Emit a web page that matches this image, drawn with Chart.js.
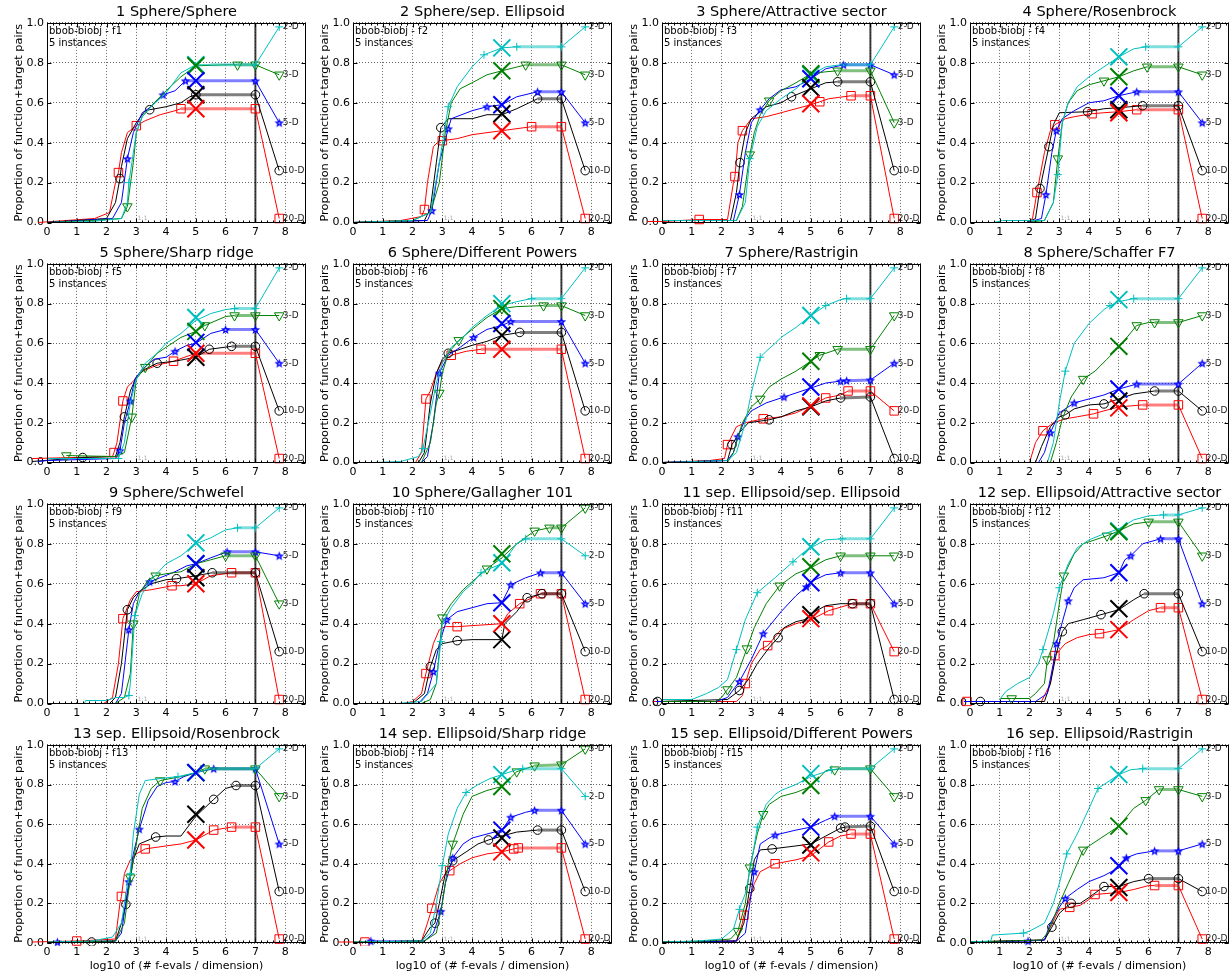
<!DOCTYPE html>
<html>
<head>
<meta charset="utf-8">
<script src="https://cdn.jsdelivr.net/npm/chart.js@4.4.1/dist/chart.umd.min.js"></script>
<style>
  body { margin: 0; background: #fff; width: 1230px; height: 977px; overflow: hidden; position: relative; }
  canvas { position: absolute; }
</style>
</head>
<body>
<script>
const titles = [
  '1 Sphere/Sphere', '2 Sphere/sep. Ellipsoid', '3 Sphere/Attractive sector', '4 Sphere/Rosenbrock',
  '5 Sphere/Sharp ridge', '6 Sphere/Different Powers', '7 Sphere/Rastrigin', '8 Sphere/Schaffer F7',
  '9 Sphere/Schwefel', '10 Sphere/Gallagher 101', '11 sep. Ellipsoid/sep. Ellipsoid', '12 sep. Ellipsoid/Attractive sector',
  '13 sep. Ellipsoid/Rosenbrock', '14 sep. Ellipsoid/Sharp ridge', '15 sep. Ellipsoid/Different Powers', '16 sep. Ellipsoid/Rastrigin'
];
const dims = ['2-D', '3-D', '5-D', '10-D', '20-D'];
const xTicks = [0, 1, 2, 3, 4, 5, 6, 7, 8];
const yTicks = [0, 0.2, 0.4, 0.6, 0.8, 1.0];
const xMax = 8.7;
const budgetX = 7;
const crossX = 5;
const labelX = 7.8;
const labelSlots = [0.98, 0.74, 0.50, 0.26, 0.02];
// slot index of each dimension label (2-D,3-D,5-D,10-D,20-D) per function
const labelRank = [
  [0,1,2,3,4],[0,1,2,3,4],[0,2,1,3,4],[0,1,2,3,4],
  [0,1,2,3,4],[0,1,2,3,4],[0,1,2,4,3],[0,1,2,3,4],
  [0,2,1,3,4],[1,0,2,3,4],[0,1,2,4,3],[0,1,2,3,4],
  [0,1,2,3,4],[1,0,2,3,4],[0,1,2,3,4],[0,1,2,3,4]
];

// ECDF points [x, y] ; a third value 1 marks a plotted marker
const ecdf2D = [
  [[0,0],[1.5,0.005],[2.5,0.02],[2.7,0.1],[2.75,0.2,1],[2.85,0.3],[3,0.45],[3.2,0.53],[3.5,0.58],[4,0.65],[4.5,0.75],[5,0.79],[5.5,0.79],[7,0.79,1]],
  [[0,0],[2,0.01],[2.6,0.05],[2.9,0.3],[3.2,0.58,1],[3.5,0.68],[4,0.78],[4.4,0.84,1],[5,0.875],[5.5,0.88,1],[7,0.88,1]],
  [[0,0.01],[2.5,0.01],[2.8,0.1],[2.95,0.32,1],[3.2,0.48],[3.5,0.56],[4,0.62],[4.5,0.67],[5,0.74],[5.5,0.78],[6,0.79],[7,0.79,1]],
  [[0.8,0],[1.1,0.01],[2.5,0.01],[2.8,0.1],[2.95,0.24,1],[3.1,0.5],[3.3,0.6],[3.6,0.68],[4,0.73],[4.5,0.78],[5,0.83],[5.5,0.87],[5.9,0.88,1],[7,0.88,1]],
  [[0,0.02],[2.4,0.02,1],[2.6,0.1],[2.8,0.3],[3,0.42],[3.3,0.5],[3.7,0.55],[4,0.6],[4.5,0.65],[5,0.715],[5.5,0.75],[6,0.77],[6.3,0.775,1],[7,0.775,1]],
  [[0.7,0],[1.6,0.005],[2.2,0.03],[2.35,0.07,1],[2.6,0.25],[2.8,0.4],[3,0.5],[3.3,0.58],[3.7,0.63],[4,0.68],[4.5,0.74],[5,0.79],[5.5,0.81],[6,0.825,1],[7,0.825,1]],
  [[0,0],[2.2,0.01],[2.5,0.05],[2.8,0.2],[3,0.35],[3.3,0.53,1],[3.5,0.56],[3.8,0.6],[4,0.63],[4.5,0.68],[5,0.74],[5.5,0.79,1],[6,0.82],[6.2,0.825,1],[7,0.825,1]],
  [[2.6,0],[2.8,0.1],[3,0.3],[3.2,0.46,1],[3.5,0.6],[4,0.7],[4.5,0.77],[4.7,0.79,1],[5,0.81],[5.5,0.825,1],[7,0.825,1]],
  [[1.25,0],[1.3,0.015],[2,0.015],[2.3,0.03],[2.6,0.03],[2.75,0.04,1],[2.8,0.1],[2.95,0.44,1],[3.2,0.55],[3.5,0.62],[4,0.7],[4.5,0.74],[5,0.8],[5.5,0.83],[6,0.87],[6.4,0.88,1],[7,0.88,1]],
  [[1.5,0],[2.3,0.01],[2.8,0.1],[2.95,0.31,1],[3,0.4],[3.3,0.48],[3.7,0.56],[4,0.6],[4.3,0.655,1],[4.5,0.67],[5,0.7],[5.5,0.8],[5.8,0.825,1],[7,0.825,1]],
  [[0,0.02],[1,0.02],[1.5,0.05],[1.9,0.08],[2.2,0.12],[2.5,0.27,1],[2.8,0.42],[3.2,0.555,1],[3.8,0.63],[4.4,0.71,1],[4.7,0.75],[5,0.78],[5.5,0.82],[6.05,0.825,1],[7,0.825,1]],
  [[1,0.02],[1.2,0.06],[1.6,0.1],[2,0.13],[2.3,0.2],[2.45,0.27,1],[2.8,0.45],[3,0.58,1],[3.3,0.7],[3.6,0.78],[4,0.82],[4.5,0.85],[5,0.875],[5.5,0.92],[6,0.94],[6.5,0.945,1],[7,0.945,1]],
  [[0,0.005],[1.5,0.01],[2.2,0.03],[2.5,0.1],[2.7,0.3],[2.8,0.35,1],[2.9,0.55],[3.1,0.75],[3.3,0.82],[3.8,0.83],[4.4,0.84,1],[5,0.86],[5.5,0.88],[7,0.88,1]],
  [[0,0.005],[2.3,0.01],[2.6,0.05],[2.8,0.2],[3,0.39,1],[3.2,0.55],[3.5,0.68],[3.8,0.76,1],[4.2,0.8],[4.6,0.83],[5,0.85],[5.5,0.875],[5.7,0.88,1],[7,0.88,1]],
  [[0,0.005],[1.2,0.01],[2,0.02],[2.4,0.07],[2.6,0.17,1],[2.8,0.25],[3,0.4],[3.2,0.585,1],[3.5,0.7],[3.8,0.75],[4,0.77],[4.5,0.8],[5,0.84],[5.7,0.875,1],[6,0.88],[7,0.88,1]],
  [[0,0.005],[0.7,0.01],[0.75,0.04],[1.8,0.05,1],[2,0.06],[2.5,0.1],[2.8,0.2],[3,0.3],[3.25,0.45,1],[3.6,0.55],[4,0.68],[4.3,0.78,1],[4.7,0.82],[5,0.85],[5.4,0.875],[5.8,0.88,1],[7,0.88,1]]
];
const ecdf3D = [
  [[0,0],[1.5,0.01],[2.5,0.02],[2.7,0.08,1],[2.9,0.3],[3,0.45],[3.2,0.53],[3.6,0.6],[4,0.66],[4.5,0.73],[5,0.785],[6,0.79],[6.4,0.79,1],[7,0.79,1]],
  [[0,0],[2,0.01],[2.6,0.05],[2.9,0.2],[3.1,0.45],[3.3,0.6],[3.6,0.67],[4,0.7],[4.5,0.74],[5,0.76],[5.8,0.79,1],[7,0.79,1]],
  [[0,0.01],[2.5,0.01],[2.7,0.08],[2.95,0.34,1],[3.1,0.45],[3.3,0.54],[3.6,0.61,1],[4,0.66],[4.5,0.7],[5,0.745],[5.5,0.755],[5.9,0.76,1],[7,0.76,1]],
  [[1.9,0],[2.5,0.01],[2.8,0.1],[2.95,0.32,1],[3.1,0.5],[3.3,0.6],[3.6,0.66],[4,0.69],[4.5,0.71,1],[5,0.73],[5.5,0.76],[5.95,0.78,1],[7,0.78,1]],
  [[0.65,0.035,1],[2.3,0.03],[2.6,0.05],[2.85,0.23,1],[3,0.42],[3.3,0.48,1],[3.7,0.55],[4,0.58],[4.5,0.63],[5,0.66],[5.3,0.69,1],[6,0.735],[6.3,0.74,1],[7,0.74,1]],
  [[2.3,0],[2.6,0.1],[2.8,0.3],[2.9,0.35,1],[3,0.45],[3.2,0.55],[3.55,0.615,1],[4,0.67],[4.5,0.73],[5,0.775,1],[5.5,0.785],[6.4,0.79,1],[7,0.79,1]],
  [[0,0],[2.2,0],[2.4,0.05],[2.7,0.2],[3,0.28],[3.3,0.32,1],[3.6,0.38],[4,0.42],[4.5,0.46],[5,0.51],[5.3,0.54,1],[5.9,0.57,1],[7,0.57,1]],
  [[2.7,0],[2.9,0.1],[3.1,0.22],[3.4,0.33],[3.8,0.42,1],[4.2,0.46],[4.6,0.52],[5,0.58],[5.6,0.69,1],[6,0.705],[6.2,0.705,1],[7,0.705,1]],
  [[2.3,0],[2.6,0.03],[2.8,0.15],[2.9,0.4,1],[3.1,0.55],[3.4,0.62],[3.65,0.64,1],[4,0.65],[4.5,0.66],[5,0.7],[5.5,0.72],[6,0.74,1],[7,0.74,1]],
  [[2.3,0],[2.6,0.02],[2.8,0.1],[3,0.43,1],[3.3,0.5],[3.7,0.57],[4,0.61],[4.5,0.675,1],[5,0.73],[5.5,0.8],[6.1,0.865,1],[6.6,0.88,1],[7,0.88,1]],
  [[0,0.01],[1.8,0.01],[2,0.03],[2.2,0.07,1],[2.5,0.13],[2.85,0.275,1],[3.1,0.38],[3.5,0.5],[3.95,0.59,1],[4.5,0.65],[5,0.68],[5.5,0.72],[6,0.74,1],[7,0.74,1]],
  [[1,0.025],[1.4,0.025,1],[2,0.025],[2.2,0.05],[2.5,0.1],[2.6,0.22,1],[2.8,0.3],[3,0.5],[3.15,0.64,1],[3.5,0.75],[3.8,0.8],[4,0.81],[4.6,0.84,1],[5,0.865],[5.5,0.9],[6,0.91,1],[7,0.91,1]],
  [[0,0.005],[2.3,0.01],[2.6,0.1],[2.8,0.33,1],[3,0.5],[3.2,0.68],[3.5,0.78],[3.8,0.82,1],[4.5,0.84],[5,0.86],[5.3,0.88,1],[7,0.88,1]],
  [[0,0.005],[2.4,0.01],[2.8,0.05],[3,0.2],[3.2,0.4],[3.35,0.5,1],[3.7,0.65],[4,0.74],[4.5,0.77],[5,0.79],[5.5,0.865,1],[6.1,0.895,1],[7,0.9,1]],
  [[0,0.005],[1.5,0.01],[2.3,0.02],[2.55,0.06,1],[2.8,0.2],[2.95,0.38,1],[3.2,0.55],[3.4,0.65,1],[3.6,0.7],[4,0.74],[4.5,0.76],[5,0.79],[5.5,0.87],[5.8,0.875,1],[6,0.88],[7,0.88,1]],
  [[0,0.005],[2.4,0.015],[2.6,0.05],[2.8,0.12],[3,0.2],[3.3,0.3],[3.6,0.4],[3.8,0.47,1],[4.3,0.52],[4.7,0.56],[5,0.59],[5.5,0.68],[5.9,0.72,1],[6.35,0.775,1],[7,0.775,1]]
];
const ecdf5D = [
  [[0,0],[2.2,0.02],[2.5,0.1],[2.7,0.32,1],[2.9,0.45],[3.2,0.55],[3.5,0.58],[3.9,0.64,1],[4.3,0.66],[4.65,0.71,1],[7,0.71,1]],
  [[0,0],[2.5,0.01],[2.65,0.06,1],[2.9,0.3],[3.2,0.47,1],[3.3,0.52],[4,0.56],[4.5,0.58,1],[5,0.59],[5.5,0.63],[6.2,0.655,1],[7,0.655,1]],
  [[0,0.01],[2.4,0.01],[2.6,0.14,1],[2.8,0.35],[3,0.5],[3.3,0.565,1],[3.6,0.62],[4,0.665],[4.5,0.68],[5,0.72],[5.5,0.77],[6.1,0.79,1],[7,0.79,1]],
  [[1.9,0],[2.4,0.02],[2.55,0.14,1],[2.75,0.35],[2.9,0.46,1],[3.1,0.52],[3.5,0.56],[4,0.6],[4.5,0.61],[5,0.635],[5.6,0.655,1],[7,0.655,1]],
  [[-0.3,0.005],[0,0.01],[2.3,0.02],[2.45,0.06,1],[2.6,0.2],[2.8,0.31,1],[2.95,0.42],[3.2,0.47],[3.6,0.52],[4,0.53],[4.3,0.56,1],[4.7,0.59],[5,0.6],[5.5,0.65],[6,0.67,1],[7,0.67,1]],
  [[2.3,0],[2.5,0.03],[2.7,0.2],[2.9,0.45,1],[3.2,0.54],[3.6,0.58],[4.05,0.63,1],[4.5,0.67],[5,0.69],[5.3,0.71,1],[7,0.71,1]],
  [[0,0],[2.2,0.01],[2.4,0.05],[2.55,0.13,1],[2.8,0.22],[3,0.26],[3.5,0.3],[4.1,0.33,1],[4.5,0.35],[5,0.375],[5.5,0.4],[6,0.41,1],[6.2,0.412,1],[7,0.415,1]],
  [[2.3,0],[2.5,0.05],[2.7,0.15,1],[3,0.25],[3.5,0.3,1],[4,0.32],[4.5,0.34],[5,0.37],[5.6,0.395,1],[7,0.395,1]],
  [[2.3,0],[2.5,0.05],[2.75,0.37,1],[2.9,0.5],[3.1,0.56],[3.45,0.61,1],[3.8,0.63],[4.3,0.66],[4.7,0.69],[5,0.7],[5.5,0.73],[6.05,0.76,1],[7,0.76,1]],
  [[2.2,0],[2.5,0.05],[2.7,0.16,1],[2.9,0.3],[3.15,0.42,1],[3.5,0.46],[4,0.48],[4.5,0.5],[5,0.505],[5.3,0.595,1],[5.8,0.63],[6.3,0.655,1],[7,0.655,1]],
  [[-0.2,0.01],[1.8,0.01],[2.2,0.03],[2.6,0.11,1],[3,0.22],[3.4,0.35,1],[4,0.46],[4.5,0.54],[4.85,0.585,1],[5,0.61],[5.5,0.645],[6,0.655,1],[7,0.655,1]],
  [[-0.2,0.01],[2.2,0.01],[2.6,0.05],[2.8,0.2],[2.9,0.3,1],[3.3,0.515,1],[3.5,0.58],[3.8,0.62],[4.5,0.63],[5,0.655],[5.2,0.72],[5.4,0.74,1],[5.8,0.8],[6.4,0.825,1],[7,0.825,1]],
  [[0.35,0.005,1],[2.3,0.01],[2.5,0.05],[2.75,0.31,1],[2.9,0.45],[3.1,0.575,1],[3.4,0.72],[3.7,0.79],[4,0.81],[4.3,0.815,1],[4.6,0.84],[5,0.86],[5.6,0.88,1],[7,0.88,1]],
  [[0.6,0.01,1],[2.4,0.01],[2.7,0.05],[2.95,0.16,1],[3.1,0.3],[3.35,0.43,1],[3.7,0.5],[4,0.53],[4.5,0.55],[5,0.57],[5.3,0.635,1],[5.8,0.66],[6.1,0.67,1],[7,0.67,1]],
  [[0,0.005],[2.5,0.01],[2.8,0.05],[2.95,0.2],[3.1,0.36,1],[3.3,0.5],[3.6,0.53],[3.8,0.545,1],[4.5,0.57],[5,0.585],[5.5,0.62],[5.8,0.64,1],[7,0.64,1]],
  [[0,0.005],[1.95,0.01,1],[2.5,0.015],[2.7,0.1],[3,0.18],[3.2,0.225,1],[3.6,0.27],[4,0.31],[4.5,0.34],[5,0.38],[5.25,0.43,1],[5.6,0.45],[6.2,0.465,1],[7,0.465,1]]
];
const ecdf10D = [
  [[0,0],[2,0.02],[2.3,0.1],[2.45,0.22,1],[2.5,0.28],[2.7,0.42],[3,0.5],[3.3,0.56],[3.45,0.565,1],[4,0.58],[4.5,0.6],[4.8,0.63],[5,0.64,1],[7,0.64,1]],
  [[0,0],[2.4,0.01],[2.6,0.07],[2.8,0.3],[2.95,0.475,1],[3.2,0.52],[4,0.52],[4.5,0.54],[5,0.54],[5.5,0.57],[6.2,0.62,1],[7,0.62,1]],
  [[0,0.01],[2.3,0.01],[2.5,0.15],[2.62,0.3,1],[2.8,0.45],[3,0.52],[3.5,0.58],[4,0.6],[4.35,0.63,1],[5,0.67],[5.5,0.7],[5.9,0.705,1],[7,0.705,1]],
  [[1.9,0],[2.2,0.02],[2.35,0.17,1],[2.65,0.38,1],[2.8,0.49],[3,0.55],[3.95,0.555,1],[4.5,0.57],[5,0.575],[5.8,0.585,1],[7,0.585,1]],
  [[-0.5,0.005],[1.2,0.025,1],[2.3,0.03],[2.45,0.1],[2.6,0.23,1],[2.8,0.36],[3,0.43],[3.3,0.47],[3.7,0.5,1],[4.3,0.51],[5,0.53],[5.45,0.57,1],[6.2,0.585,1],[7,0.585,1]],
  [[2.2,0],[2.4,0.05],[2.6,0.3],[2.8,0.45],[3,0.52],[3.2,0.55,1],[3.6,0.57],[4,0.59],[4.5,0.61],[5,0.64],[5.6,0.655,1],[7,0.655,1]],
  [[0,0],[2.2,0.01],[2.35,0.09,1],[2.6,0.15],[2.9,0.2],[3.6,0.215,1],[4,0.23],[4.5,0.26],[5,0.28],[5.5,0.31],[6,0.325,1],[7,0.33,1]],
  [[2.2,0],[2.4,0.08],[2.7,0.18],[3,0.23],[3.2,0.24,1],[3.5,0.27],[4,0.29],[4.5,0.295,1],[5,0.32],[5.5,0.345],[6.2,0.36,1],[7,0.36,1]],
  [[2.1,0],[2.3,0.03],[2.5,0.2],[2.7,0.47,1],[2.9,0.53],[3.1,0.56],[3.5,0.6],[4,0.62],[4.35,0.625,1],[5,0.64],[5.55,0.655,1],[7,0.655,1]],
  [[2,0],[2.4,0.05],[2.6,0.185,1],[2.8,0.27],[3,0.3],[3.5,0.315,1],[4,0.32],[5,0.32],[5.1,0.4],[5.5,0.46],[5.85,0.53,1],[6.35,0.55,1],[7,0.55,1]],
  [[-0.15,0.01,1],[2.2,0.02],[2.6,0.065,1],[2.9,0.12],[3.2,0.2],[3.6,0.28],[3.9,0.33,1],[4.1,0.38],[4.5,0.41],[4.8,0.42],[5,0.45],[5.5,0.49],[6,0.5],[6.4,0.5,1],[7,0.5,1]],
  [[0.35,0.01,1],[2.5,0.01],[2.7,0.1],[2.9,0.25],[3.1,0.36,1],[3.3,0.4],[3.8,0.42],[4.4,0.445,1],[5,0.47],[5.5,0.52],[5.85,0.55,1],[7,0.55,1]],
  [[1.5,0.005,1],[2.3,0.01],[2.5,0.1],[2.65,0.195,1],[2.9,0.42],[3.1,0.5],[3.65,0.535,1],[4,0.54],[4.5,0.54],[4.8,0.6],[5,0.64],[5.6,0.725,1],[6,0.78],[6.35,0.795,1],[7,0.795,1]],
  [[0.4,0.005],[2.3,0.01],[2.6,0.08],[2.75,0.1,1],[2.9,0.2],[3.1,0.35],[3.35,0.415,1],[3.8,0.46],[4.2,0.5],[4.55,0.52,1],[5,0.54],[5.5,0.56],[6.2,0.57,1],[7,0.57,1]],
  [[0,0.005],[2.5,0.01],[2.75,0.1],[2.95,0.275,1],[3.1,0.42],[3.3,0.47],[3.7,0.475,1],[4.5,0.49],[5,0.5],[5.5,0.54],[6,0.58,1],[6.15,0.585,1],[7,0.59,1]],
  [[0,0.005],[2.5,0.015],[2.75,0.08,1],[3,0.15],[3.3,0.19],[3.4,0.2,1],[3.7,0.2],[4,0.23],[4.5,0.285,1],[5,0.285],[5.5,0.31],[6,0.325,1],[7,0.325,1]]
];
const ecdf20D = [
  [[-0.3,0],[1.6,0.02],[2.1,0.05],[2.3,0.2],[2.4,0.25,1],[2.5,0.35],[2.7,0.45],[3,0.485,1],[3.3,0.51],[3.8,0.54],[4.3,0.56],[4.5,0.57,1],[7,0.57,1]],
  [[0,0],[1.6,0.01],[2.3,0.03],[2.4,0.065,1],[2.5,0.2],[2.7,0.38],[2.9,0.41],[3,0.41,1],[3.5,0.42],[4,0.44],[4.5,0.45],[5,0.46],[6,0.48,1],[7,0.48,1]],
  [[-0.5,0.005],[0,0.005],[1.25,0.015,1],[2.2,0.015],[2.4,0.2],[2.45,0.23,1],[2.55,0.4],[2.7,0.46,1],[3,0.52],[3.5,0.53],[4,0.55],[4.5,0.57],[5,0.59],[5.3,0.605,1],[5.6,0.62],[6.35,0.635,1],[7,0.635,1]],
  [[1.9,0],[2.1,0.02],[2.25,0.15,1],[2.5,0.35],[2.7,0.46],[2.85,0.49,1],[3.2,0.52],[3.5,0.53],[4.1,0.545,1],[4.5,0.55],[5,0.555],[5.6,0.565,1],[7,0.565,1]],
  [[-0.5,0.02],[2.2,0.03],[2.25,0.05,1],[2.35,0.1],[2.55,0.31,1],[2.7,0.38],[2.9,0.41],[3.2,0.46],[3.7,0.49],[4.25,0.51,1],[5,0.55],[7,0.55,1]],
  [[2.1,0],[2.3,0.05],[2.45,0.32,1],[2.6,0.36],[2.8,0.45],[3,0.51],[3.3,0.54,1],[3.8,0.56],[4.3,0.57,1],[7,0.57,1]],
  [[0,0],[1.6,0.01],[2.1,0.02],[2.2,0.09,1],[2.5,0.18],[2.8,0.2],[3.4,0.22,1],[4,0.23],[4.5,0.25],[5,0.285],[5.5,0.325,1],[6,0.34],[6.25,0.36,1],[7,0.36,1]],
  [[2,0],[2.2,0.1],[2.45,0.16,1],[2.8,0.2],[3.2,0.22],[3.6,0.23],[4.15,0.245,1],[4.5,0.26],[5,0.28],[5.8,0.29,1],[7,0.29,1]],
  [[1.9,0],[2.2,0.03],[2.4,0.2],[2.55,0.425,1],[2.8,0.52],[3,0.56],[3.5,0.57],[4.2,0.59,1],[4.5,0.59],[5,0.6],[5.5,0.64],[6.2,0.655,1],[7,0.655,1]],
  [[1.7,0],[2,0.01],[2.3,0.05],[2.45,0.15,1],[2.7,0.3],[2.9,0.37],[3.1,0.385],[3.5,0.385,1],[4.5,0.395],[5,0.4],[5.2,0.45],[5.6,0.5,1],[6.3,0.55,1],[7,0.55,1]],
  [[-0.3,0.01,1],[2.5,0.01],[2.7,0.04],[2.8,0.1,1],[3,0.2],[3.3,0.27],[3.55,0.29,1],[4,0.37],[4.5,0.4],[5,0.42],[5.6,0.465,1],[6.4,0.5,1],[7,0.5,1]],
  [[-0.5,0],[-0.1,0.01,1],[2.4,0.01],[2.7,0.1],[2.85,0.24,1],[3.2,0.3],[3.6,0.33],[4,0.345],[4.35,0.35,1],[5,0.37],[5.5,0.42],[6,0.465],[6.4,0.48,1],[7,0.48,1]],
  [[-0.5,0.005],[1,0.01,1],[2.3,0.02],[2.45,0.2],[2.5,0.235,1],[2.6,0.35],[2.8,0.42],[3,0.45],[3.3,0.475,1],[4,0.49],[4.5,0.5],[5,0.52],[5.6,0.57,1],[6.2,0.585,1],[7,0.585,1]],
  [[-0.5,0.005],[0.4,0.005,1],[2.3,0.01],[2.5,0.1],[2.65,0.175,1],[2.9,0.3],[3.1,0.35],[3.25,0.365,1],[3.6,0.4],[4,0.43],[4.5,0.45],[5,0.46],[5.4,0.475,1],[5.55,0.48,1],[7,0.48,1]],
  [[0,0.005],[2.5,0.01],[2.7,0.1],[2.75,0.14,1],[2.9,0.2],[3.1,0.3],[3.3,0.36],[3.8,0.4,1],[4.5,0.42],[5,0.44],[5.6,0.51,1],[6,0.54],[6.35,0.55,1],[7,0.55,1]],
  [[0,0.005],[2.5,0.015],[2.7,0.08],[3,0.17],[3.35,0.18,1],[3.7,0.19],[4,0.22],[4.2,0.245,1],[4.6,0.25],[5,0.255],[5.5,0.27],[6,0.29],[6.2,0.29,1],[7,0.29,1]]
];

// proportion reached at 10^5 evaluations (big crosses)
const cross2D  = [0.79, 0.875, 0.74, 0.83, 0.73, 0.80, 0.74, 0.82, 0.805, 0.705, 0.785, 0.865, 0.86, 0.85, 0.855, 0.85];
const cross3D  = [0.785, 0.76, 0.745, 0.73, 0.66, 0.775, 0.51, 0.585, 0.70, 0.75, 0.685, 0.86, 0.86, 0.79, 0.795, 0.59];
const cross5D  = [0.71, 0.59, 0.72, 0.635, 0.605, 0.70, 0.38, 0.37, 0.70, 0.505, 0.605, 0.655, 0.86, 0.57, 0.585, 0.39];
const cross10D = [0.64, 0.545, 0.675, 0.565, 0.53, 0.64, 0.28, 0.31, 0.63, 0.32, 0.445, 0.475, 0.65, 0.53, 0.495, 0.28];
const cross20D = [0.57, 0.46, 0.595, 0.55, 0.55, 0.57, 0.285, 0.275, 0.60, 0.40, 0.425, 0.37, 0.52, 0.46, 0.455, 0.255];

const curveSets = [ecdf2D, ecdf3D, ecdf5D, ecdf10D, ecdf20D];
const crossSets = [cross2D, cross3D, cross5D, cross10D, cross20D];
const colors = ['#00bfbf', '#008000', '#0000ff', '#000000', '#ff0000'];
const fadeColors = ['rgba(0,191,191,0.5)', 'rgba(0,128,0,0.5)', 'rgba(0,0,255,0.5)', 'rgba(0,0,0,0.5)', 'rgba(255,0,0,0.5)'];

Chart.defaults.font.family = '"DejaVu Sans", sans-serif';
Chart.defaults.font.size = 11;
Chart.defaults.color = '#000';

function makeStar(color) {
  const c = document.createElement('canvas');
  c.width = 11; c.height = 11;
  const g = c.getContext('2d');
  g.beginPath();
  for (let k = 0; k < 10; k++) {
    const r = k % 2 ? 2.1 : 5;
    const a = -Math.PI / 2 + k * Math.PI / 5;
    g.lineTo(5.5 + r * Math.cos(a), 6 + r * Math.sin(a));
  }
  g.closePath();
  g.fillStyle = color; g.fill();
  g.fillStyle = 'rgba(255,255,255,0.7)';
  g.beginPath(); g.arc(5.5, 6, 1, 0, Math.PI * 2); g.fill();
  return c;
}
const starImg = makeStar('#0000ff');
const markStyle = ['cross', 'triangle', starImg, 'circle', 'rect'];
const markSize = [4, 5.5, 4.5, 4.3, 6];
const markRot = [0, 180, 0, 0, 0];

const decor = {
  id: 'decor',
  beforeDatasetsDraw(chart) {
    const { ctx, chartArea: a, scales: { x, y } } = chart;
    ctx.save();
    const bx = x.getPixelForValue(budgetX);
    ctx.strokeStyle = 'rgba(0,0,0,0.75)';
    ctx.lineWidth = 2;
    ctx.beginPath(); ctx.moveTo(bx, a.top); ctx.lineTo(bx, a.bottom); ctx.stroke();
    ctx.fillStyle = '#aaa';
    ctx.font = '6px "DejaVu Sans"';
    ctx.textBaseline = 'alphabetic';
    ctx.fillText('1:1', x.getPixelForValue(3.05), y.getPixelForValue(0.012));
    ctx.restore();
  },
  afterDraw(chart, args, opts) {
    const { ctx, chartArea: a, scales: { x, y } } = chart;
    const i = opts.idx;
    const l = Math.round(a.left) + 0.5, r = Math.round(a.right) - 0.5;
    const t = Math.round(a.top) + 0.5, b = Math.round(a.bottom) - 0.5;
    ctx.save();
    ctx.strokeStyle = '#000';
    ctx.lineWidth = 1;
    ctx.strokeRect(l, t, r - l, b - t);
    ctx.beginPath();
    xTicks.forEach(v => {
      const px = Math.round(x.getPixelForValue(v)) + 0.5;
      ctx.moveTo(px, b); ctx.lineTo(px, b - 4);
      ctx.moveTo(px, t); ctx.lineTo(px, t + 4);
    });
    for (let v = 0.2; v < xMax; v += 0.2) {
      const px = Math.round(x.getPixelForValue(v)) + 0.5;
      ctx.moveTo(px, b); ctx.lineTo(px, b - 2);
      ctx.moveTo(px, t); ctx.lineTo(px, t + 2);
    }
    yTicks.forEach(v => {
      const py = Math.round(y.getPixelForValue(v)) + 0.5;
      ctx.moveTo(l, py); ctx.lineTo(l + 4, py);
      ctx.moveTo(r, py); ctx.lineTo(r - 4, py);
    });
    ctx.stroke();

    ctx.fillStyle = '#000';
    ctx.font = '10px "DejaVu Sans"';
    ctx.textBaseline = 'top';
    ctx.textAlign = 'left';
    ctx.fillText('bbob-biobj - f' + (i + 1), a.left + 2, a.top + 3.5);
    ctx.fillText('5 instances', a.left + 2, a.top + 15.5);

    ctx.font = '9px "DejaVu Sans"';
    ctx.fillStyle = '#222';
    ctx.textBaseline = 'middle';
    dims.forEach((d, k) => {
      const slot = labelSlots[labelRank[i][k]];
      ctx.fillText(d, x.getPixelForValue(labelX) + 3.5, y.getPixelForValue(slot));
    });
    ctx.restore();
  }
};

const colLeft = [0, 306, 615, 923];
const rowTop = [0, 241, 481, 722];
const rowH = [241, 240, 241, 255];
const axisH = [18.5, 18.5, 18.5, 34];

titles.forEach((title, i) => {
  const row = Math.floor(i / 4), col = i % 4;
  const cv = document.createElement('canvas');
  cv.width = 308; cv.height = rowH[row];
  cv.style.left = colLeft[col] + 'px';
  cv.style.top = rowTop[row] + 'px';
  document.body.appendChild(cv);

  const datasets = [];
  datasets.push({
    type: 'line',
    data: crossSets.map(s => ({ x: crossX, y: s[i] })),
    showLine: false,
    pointStyle: 'crossRot',
    pointRadius: 12,
    pointBorderWidth: 2,
    pointBorderColor: colors,
    pointBackgroundColor: colors,
    order: 0
  });
  curveSets.forEach((set, d) => {
    const pts = set[i];
    const n = pts.length;
    const last = pts[n - 1];
    const slot = labelSlots[labelRank[i][d]];
    const common = {
      type: 'line',
      borderColor: colors[d],
      borderWidth: 1,
      fill: false,
      tension: 0,
      pointStyle: markStyle[d],
      pointRotation: markRot[d],
      pointBorderColor: colors[d],
      pointBackgroundColor: 'rgba(0,0,0,0)',
      pointBorderWidth: 1,
      pointRadius: c => (c.raw && c.raw.m ? markSize[d] : 0),
      clip: { left: 25, top: 3, right: 3, bottom: 3 }
    };
    datasets.push(Object.assign({}, common, {
      data: [{ x: last[0], y: last[1] }, { x: labelX, y: slot, m: true }],
      order: 1
    }));
    datasets.push(Object.assign({}, common, {
      data: pts.map(p => ({ x: p[0], y: p[1], m: p[2] === 1 })),
      segment: {
        borderWidth: c => (c.p1DataIndex === n - 1 ? 3 : 1),
        borderColor: c => (c.p1DataIndex === n - 1 ? fadeColors[d] : colors[d])
      },
      order: 2
    }));
  });

  new Chart(cv, {
    type: 'line',
    data: { datasets },
    options: {
      responsive: false,
      animation: false,
      events: [],
      devicePixelRatio: 1,
      layout: { autoPadding: false, padding: { left: 0, right: 2, top: 0, bottom: 0 } },
      plugins: {
        legend: { display: false },
        tooltip: { enabled: false },
        title: {
          display: true, text: title, fullSize: false, color: '#000',
          font: { size: 14.5, weight: 'normal' }, padding: { top: 4, bottom: 1.5 }
        },
        decor: { idx: i }
      },
      scales: {
        x: {
          type: 'linear', min: 0, max: xMax,
          afterFit: s => { s.height = axisH[row]; },
          ticks: { stepSize: 1, includeBounds: false, autoSkip: false, maxRotation: 0, padding: 3, color: '#000' },
          grid: { color: 'rgba(0,0,0,0.6)', lineWidth: 1, drawTicks: false },
          border: { display: false, dash: [1, 2] },
          title: {
            display: row === 3, text: 'log10 of (# f-evals / dimension)', color: '#000',
            font: { size: 11 }, padding: { top: 0, bottom: 4 }
          }
        },
        y: {
          min: 0, max: 1,
          afterFit: s => { s.width = 47; },
          ticks: { stepSize: 0.2, padding: 3, color: '#000', callback: v => v.toFixed(1) },
          grid: { color: 'rgba(0,0,0,0.6)', lineWidth: 1, drawTicks: false },
          border: { display: false, dash: [1, 2] },
          title: {
            display: true, text: 'Proportion of function+target pairs', color: '#000',
            font: { size: 11.3 }, padding: { top: 12, bottom: 0 }
          }
        }
      }
    },
    plugins: [decor]
  });
});
</script>
</body>
</html>
